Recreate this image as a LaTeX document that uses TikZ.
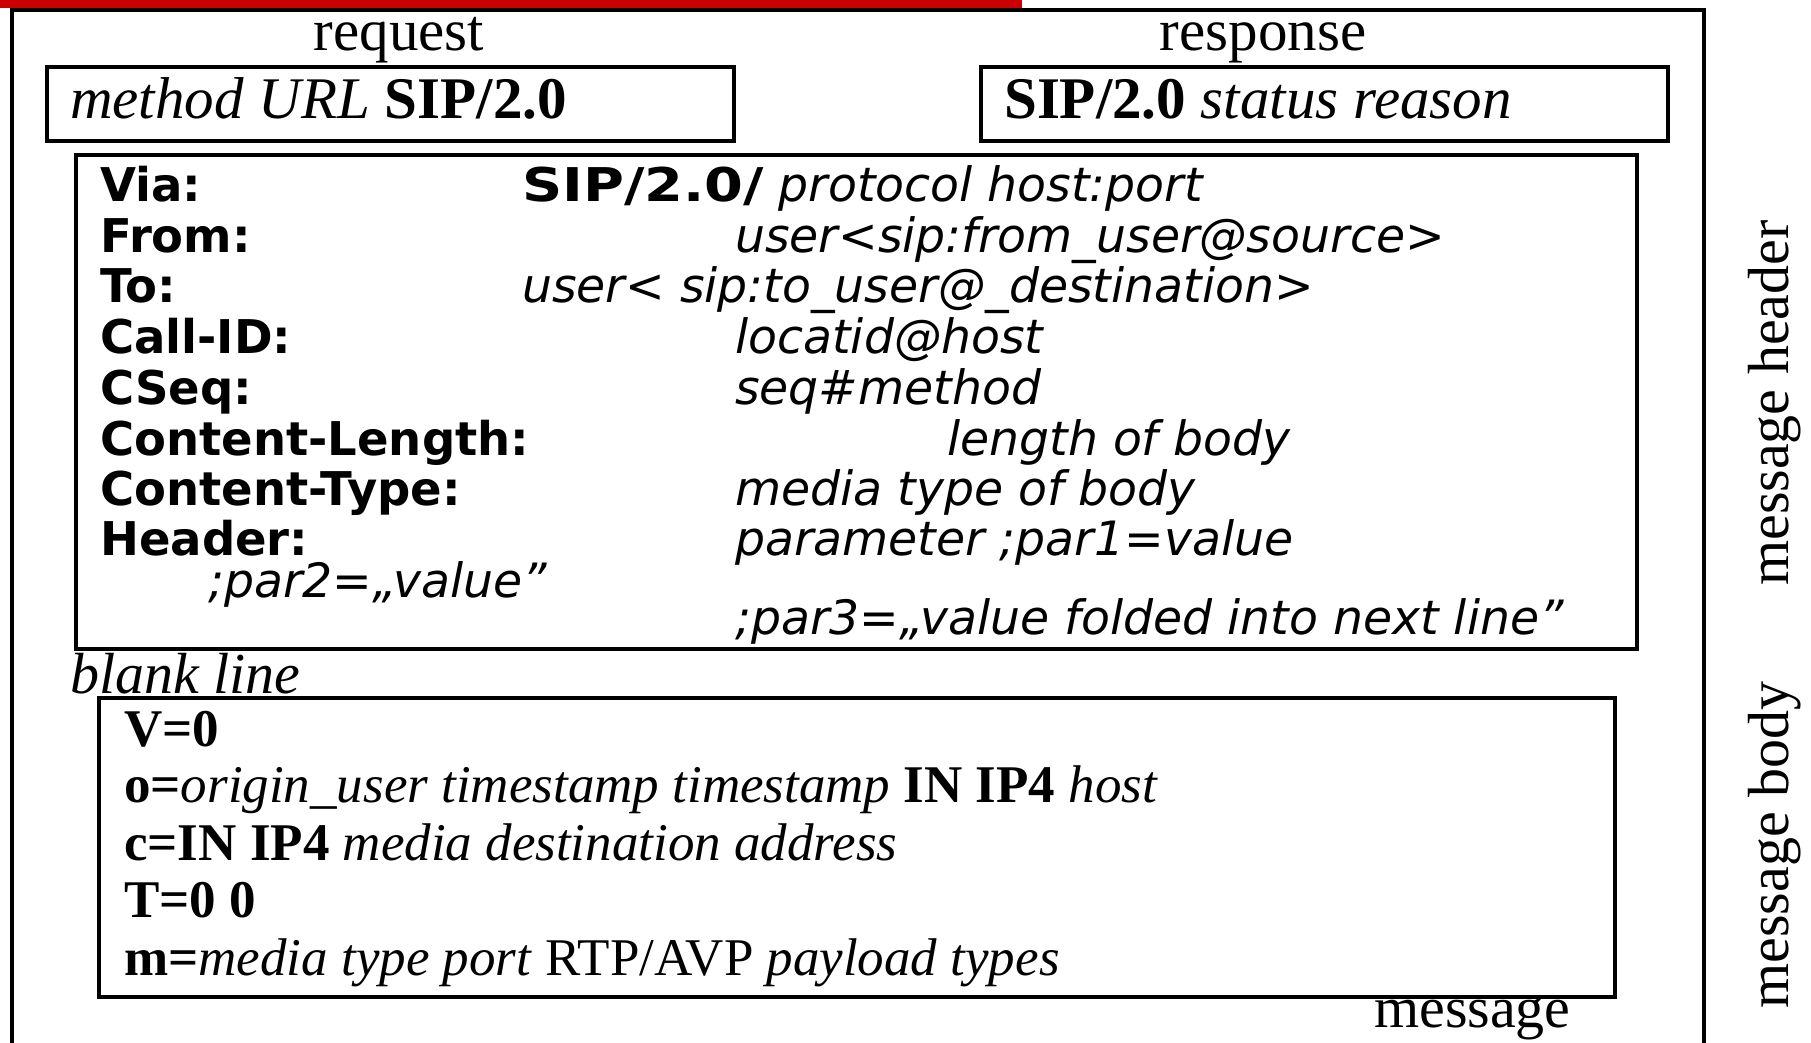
\documentclass[tikz,border=0pt]{standalone}
\usepackage{fontspec}
\setmainfont{Liberation Serif}
\newfontfamily\hdrfont{DejaVu Sans}
\definecolor{barred}{HTML}{CC0000}
\begin{document}
\begin{tikzpicture}[x=1pt,y=-1pt,
  frame/.style={draw=black, line width=3.4pt},
  msgbox/.style={draw=black, line width=3.8pt, anchor=north west, inner sep=0pt, outer sep=0pt},
  bigserif/.style={font=\fontsize{59}{59}\selectfont, inner sep=0pt},
  sideserif/.style={font=\fontsize{58}{58}\selectfont, inner sep=0pt},
  bodyserif/.style={font=\fontsize{53}{53}\selectfont, inner sep=0pt, anchor=base west},
  hdrlabel/.style={font=\hdrfont\bfseries\fontsize{46.5}{46.5}\selectfont, inner sep=0pt, anchor=base west},
  hdrvalue/.style={font=\hdrfont\itshape\fontsize{47.3}{47.3}\selectfont, inner sep=0pt, anchor=base west}]
\useasboundingbox (0,0) rectangle (1811,1042);
\clip (0,0) rectangle (1811,1042);

% outer message frame, open at the bottom
\draw[frame] (12,1050) -- (12,10) -- (1704,10) -- (1704,1050);
% red title bar
\fill[barred] (0,0) rectangle (1022,8);

% start lines
\node[bigserif, anchor=base] (reqlbl) at (399,50) {request};
\node[bigserif, anchor=base] (reslbl) at (1263,50) {response};
\node[msgbox, minimum width=687pt, minimum height=74pt] (reqbox) at (47,67) {};
\node[msgbox, minimum width=687pt, minimum height=74pt] (resbox) at (981,67) {};
\node[bigserif, anchor=base west] (reqline) at (70,118) {\textit{method URL} \textbf{SIP/2.0}};
\node[bigserif, anchor=base west] (resline) at (1004,118) {\textbf{SIP/2.0} \textit{status reason}};

% header fields
\node[msgbox, minimum width=1561pt, minimum height=494pt] (hdrbox) at (76,155) {};
\node[hdrlabel] (via) at (100,201) {Via:};
\node[hdrlabel] (from) at (100,252) {From:};
\node[hdrlabel] (to) at (100,302) {To:};
\node[hdrlabel] (callid) at (100,353) {Call-ID:};
\node[hdrlabel] (cseq) at (100,404) {CSeq:};
\node[hdrlabel] (clen) at (100,455) {Content-Length:};
\node[hdrlabel] (ctype) at (100,505) {Content-Type:};
\node[hdrlabel] (hdr) at (100,555) {Header:};

\node[hdrvalue] (viaval) at (522,201) {\scalebox{1.2}[1]{\bfseries\upshape\fontsize{46.5}{46.5}\selectfont SIP/2.0/} protocol host:port};
\node[hdrvalue] (fromval) at (735,252) {user<sip:from\_user@source>};
\node[hdrvalue] (toval) at (522,302) {user< sip:to\_user@\_destination>};
\node[hdrvalue] (callidval) at (735,353) {locatid@host};
\node[hdrvalue] (cseqval) at (735,404) {seq\#method};
\node[hdrvalue] (clenval) at (947,455) {length of body};
\node[hdrvalue] (ctypeval) at (735,505) {media type of body};
\node[hdrvalue] (hdrval) at (735,555) {parameter ;par1=value};
\node[hdrvalue] (par2) at (208,597) {;par2=„value”};
\node[hdrvalue] (par3) at (735,634) {;par3=„value folded into next line”};

% blank line and SDP body
\node[sideserif, anchor=base west] (blank) at (70,693) {\textit{blank line}};
\node[msgbox, minimum width=1516pt, minimum height=299pt] (bodybox) at (99,698) {};
\node[bodyserif] (sdpv) at (124,746) {\textbf{V=0}};
\node[bodyserif] (sdpo) at (124,802) {\textbf{o=}\textit{origin\_user timestamp timestamp} \textbf{IN IP4} \textit{host}};
\node[bodyserif] (sdpc) at (124,860) {\textbf{c=IN IP4} \textit{media destination address}};
\node[bodyserif] (sdpt) at (124,917) {\textbf{T=0 0}};
\node[bodyserif] (sdpm) at (124,975) {\textbf{m=}\textit{media type port} RTP/AVP \textit{payload types}};

\node[sideserif, anchor=base west] (msg) at (1374,1027) {message};

% side labels
\node[sideserif, anchor=base, rotate=90] (sidehdr) at (1788,403) {message header};
\node[sideserif, anchor=base, rotate=90] (sidebody) at (1788,845) {message body};
\end{tikzpicture}
\end{document}
